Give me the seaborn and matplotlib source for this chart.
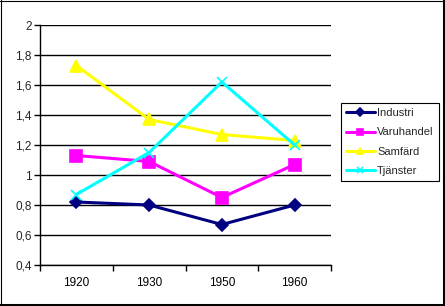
import matplotlib
matplotlib.use("Agg")
import matplotlib.pyplot as plt
import seaborn as sns
import pandas as pd
from matplotlib.lines import Line2D
from matplotlib.ticker import FixedLocator, FuncFormatter

years = ["1920", "1930", "1950", "1960"]
industri = [0.82, 0.80, 0.67, 0.80]
varuhandel = [1.13, 1.09, 0.85, 1.07]
samfard = [1.73, 1.37, 1.27, 1.23]
tjanster = [0.87, 1.15, 1.62, 1.20]
series_names = ["Industri", "Varuhandel", "Samfärd", "Tjänster"]
y_ticks = [0.4, 0.6, 0.8, 1.0, 1.2, 1.4, 1.6, 1.8, 2.0]

rows = []
for name, vals in zip(series_names, [industri, varuhandel, samfard, tjanster]):
    for i, (yr, v) in enumerate(zip(years, vals)):
        rows.append({"pos": i, "year": yr, "value": v, "series": name})
df = pd.DataFrame(rows)

sns.set_style("white")
plt.rcParams["font.family"] = ["Liberation Sans", "DejaVu Sans"]

W, H = 445, 306
fig = plt.figure(figsize=(W / 100, H / 100), dpi=100)
ax = fig.add_axes([40 / W, (H - 265) / H, (331 - 40) / W, (265 - 25) / H])

palette = {"Industri": "#000080", "Varuhandel": "#FF00FF",
           "Samfärd": "#FFFF00", "Tjänster": "#00FFFF"}
markers = {"Industri": "D", "Varuhandel": "s", "Samfärd": "^", "Tjänster": "x"}
msize = {"Industri": 6, "Varuhandel": 8, "Samfärd": 8, "Tjänster": 7}

for name in series_names:
    sub = df[df["series"] == name]
    sns.lineplot(data=sub, x="pos", y="value", color=palette[name],
                 marker=markers[name], markersize=msize[name],
                 markeredgecolor=palette[name], markeredgewidth=1.2,
                 linewidth=2.2, ax=ax, label=name, zorder=3)

ax.set_xlim(-0.5, 3.5)
ax.set_ylim(0.4, 2.0)
ax.set_yticks(y_ticks)
ax.yaxis.set_major_formatter(FuncFormatter(lambda v, p: (f"{v:.1f}".rstrip("0").rstrip(".")).replace(".", ",")))
ax.set_xticks(range(len(years)))
ax.set_xticklabels(years)
ax.xaxis.set_minor_locator(FixedLocator([-0.5, 0.5, 1.5, 2.5, 3.5]))
ax.tick_params(axis="x", which="major", length=0, pad=9, labelsize=8.5, colors="black")
ax.tick_params(axis="x", which="minor", length=4, width=1, direction="out", color="black", bottom=True)
ax.tick_params(axis="y", which="major", length=4, width=1, direction="out", color="black", left=True, labelsize=8.5, pad=2)
ax.set_xlabel("")
ax.set_ylabel("")
ax.grid(axis="y", color="black", linewidth=1)
ax.set_axisbelow(True)
for s in ["top", "right"]:
    ax.spines[s].set_visible(False)
for s in ["left", "bottom"]:
    ax.spines[s].set_color("black")
    ax.spines[s].set_linewidth(1)

leg = ax.legend(loc="upper left", bbox_to_anchor=(341 / W, 1 - 103 / H),
                bbox_transform=fig.transFigure, frameon=True, fancybox=False,
                edgecolor="black", framealpha=1, fontsize=8,
                handlelength=2.6, handletextpad=0.2, borderpad=0.45,
                labelspacing=0.85, borderaxespad=0)
leg.get_frame().set_linewidth(0.8)
for h in leg.legend_handles:
    h.set_markersize(4.5)

# outer border
fig.add_artist(Line2D([0.5 / W, 0.5 / W], [0, 1], color="black", lw=0.8, transform=fig.transFigure))
fig.add_artist(Line2D([0, 1], [1 - 0.5 / H, 1 - 0.5 / H], color="black", lw=0.8, transform=fig.transFigure))
fig.add_artist(Line2D([1 - 1.5 / W, 1 - 1.5 / W], [0, 1], color="black", lw=2.2, transform=fig.transFigure))
fig.add_artist(Line2D([0, 1], [1.5 / H, 1.5 / H], color="black", lw=2.2, transform=fig.transFigure))

fig.savefig("out.png", dpi=100)
